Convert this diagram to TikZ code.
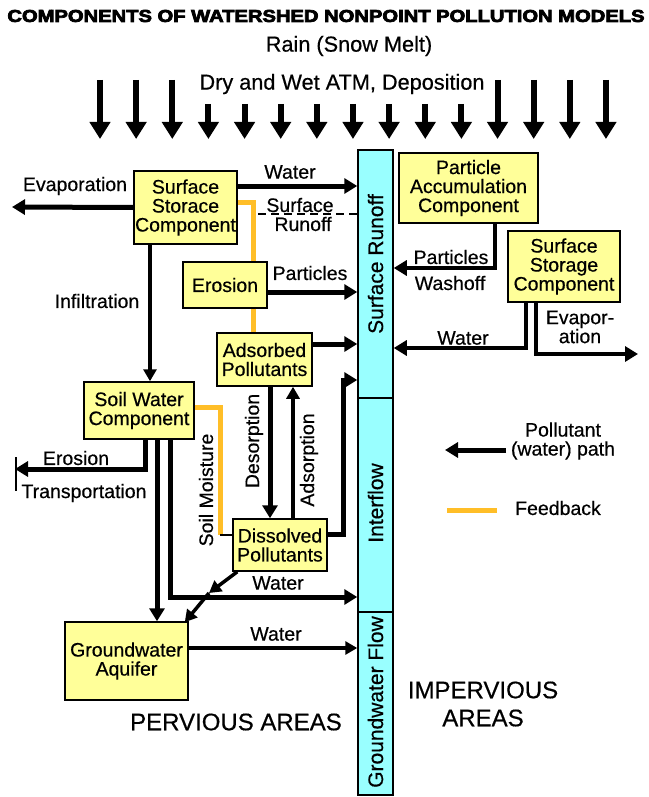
\documentclass[tikz,border=0pt]{standalone}
\usepackage{fontspec}
\setmainfont{Liberation Sans}[FakeBold=0.5]
\newfontfamily\titlefont[FakeBold=4]{Liberation Sans Bold}
\usepackage{graphicx}
\usetikzlibrary{arrows.meta}
\definecolor{boxyellow}{RGB}{255,255,153}
\definecolor{runcyan}{RGB}{153,255,255}
\definecolor{fborange}{RGB}{255,190,40}
\begin{document}
\begin{tikzpicture}[x=1pt,y=-1pt,
  comp/.style={draw=black,line width=1.5pt,fill=boxyellow,inner sep=0pt,align=center,font=\fontsize{19.5}{19}\selectfont},
  colbox/.style={draw=black,line width=1.5pt,fill=runcyan,inner sep=0pt,minimum width=35pt},
  lbl/.style={inner sep=0pt,font=\fontsize{19.5}{19}\selectfont,align=center},
  collbl/.style={inner sep=0pt,font=\fontsize{21}{21}\selectfont,rotate=90},
  toplbl/.style={inner sep=0pt,font=\fontsize{21.7}{22}\selectfont},
  big/.style={inner sep=0pt,font=\fontsize{24}{28}\selectfont,align=center},
  pflow/.style={line width=5pt,-{Triangle[length=13pt,width=15pt]}},
  pmid/.style={line width=3.5pt,-{Triangle[length=12pt,width=13pt]}},
  fb/.style={draw=fborange,line width=5pt},
  rain/.style={line width=6pt,-{Triangle[length=17pt,width=20pt]}}
]
\useasboundingbox (0,0) rectangle (648,797);
% titles
\node[inner sep=0pt] (title) at (326,16) {\resizebox{637pt}{12pt}{\titlefont COMPONENTS OF WATERSHED NONPOINT POLLUTION MODELS}};
\node[toplbl] (rainl) at (349,46) {Rain (Snow Melt)};
\node[toplbl] (dryl) at (342,84) {Dry and Wet ATM, Deposition};
% rain arrows
\foreach \i in {0,1,2,11,12,13,14}{\draw[rain] ({100+36.14*\i},80) -- ({100+36.14*\i},139);}
\foreach \i in {3,...,10}{\draw[rain] ({100+36.14*\i},104) -- ({100+36.14*\i},139);}
% column
\node[colbox,minimum height=248pt] (sr) at (375.5,274) {};
\node[colbox,minimum height=214pt] (inf) at (375.5,505) {};
\node[colbox,minimum height=183pt] (gwf) at (375.5,703.5) {};
\node[collbl] (srl) at (375.5,264) {Surface Runoff};
\node[collbl] (infl2) at (375.5,503) {Interflow};
\node[collbl] (gwfl) at (375.5,702) {Groundwater Flow};
% boxes
\node[comp,minimum width=103pt,minimum height=73pt] (ssc) at (185.5,207.5) {Surface\\Storace\\Component};
\node[comp,minimum width=84pt,minimum height=46pt] (ero) at (225,285) {Erosion};
\node[comp,minimum width=95pt,minimum height=53pt] (ads) at (264.5,359.5) {Adsorbed\\Pollutants};
\node[comp,minimum width=110pt,minimum height=57pt] (swc) at (139,410.5) {Soil Water\\Component};
\node[comp,minimum width=94pt,minimum height=52pt] (dis) at (280,545) {Dissolved\\Pollutants};
\node[comp,minimum width=123pt,minimum height=78pt] (gwa) at (126.5,661) {Groundwater\\Aquifer};
\node[comp,minimum width=139pt,minimum height=70pt] (pac) at (468.5,188) {Particle\\Accumulation\\Component};
\node[comp,minimum width=112pt,minimum height=71pt] (ssr) at (564,266.5) {Surface\\Storage\\Component};
% free ends
\coordinate (evapL) at (12,207);
\coordinate (dashS) at (258,214);
\coordinate (eroL) at (15,469);
\coordinate (jn) at (209,593);
\coordinate (evapR) at (638,354);
% left side connectors
\draw[pflow] (ssc.west) -- (evapL);
\draw[pflow] (ssc.east |- 0,186) -- (sr.west |- 0,186);
\draw[line width=1.3pt,dash pattern=on 8pt off 5pt] (dashS) -- (sr.west |- dashS);
\draw[fb] (ssc.east |- 0,202) -| (ero.north -| 253,0);
\draw[fb] (ero.south -| 253,0) -- (ads.north -| 253,0);
\draw[pflow] (ero.east |- 0,292) -- (sr.west |- 0,292);
\draw[pmid] (ssc.south -| 150,0) -- (swc.north -| 150,0);
\draw[pflow] (ads.east |- 0,344) -- (sr.west |- 0,344);
\draw[pflow] (ads.south -| 270,0) -- (dis.north -| 270,0);
\draw[pmid] (dis.north -| 293,0) -- (ads.south -| 293,0);
\draw[pflow] (dis.east |- 0,534) -| (343,380) -- (sr.west |- 0,380);
\draw[fb] (swc.east |- 0,407) -| (220,535);
\draw[line width=1.3pt] (220,535) -- (dis.west |- 0,535);
\draw[pflow] (swc.south -| 145,0) |- (eroL);
\draw[line width=1.3pt] (16,457) -- (16,491);
\draw[pflow] (swc.south -| 157,0) -- (gwa.north -| 157,0);
\draw[pflow] (swc.south -| 170,0) |- (inf.west |- 0,597);
\draw[pmid] ([xshift=5pt]dis.south west) -- (jn);
\draw[pmid] (jn) -- ([xshift=-4pt,yshift=-1pt]gwa.north east);
\draw[pmid] (gwa.east |- 0,648) -- (gwf.west |- 0,648);
% right side connectors
\draw[pflow,line width=4pt] (pac.south -| 495,0) |- (sr.east |- 0,268);
\draw[pflow,line width=4pt] (ssr.south -| 526,0) |- (sr.east |- 0,348);
\draw[pflow,line width=4pt] (ssr.south -| 536,0) |- (evapR);
% labels
\node[lbl] (evl) at (75,186) {Evaporation};
\node[lbl] (wl1) at (290,172) {Water};
\node[lbl] (srl1) at (300,205) {Surface};
\node[lbl] (srl2) at (303,224) {Runoff};
\node[lbl] (pl1) at (310,273) {Particles};
\node[lbl] (infl) at (97,301) {Infiltration};
\node[lbl,rotate=90] (desl) at (254,441) {Desorption};
\node[lbl,rotate=90] (adsl) at (309,460) {Adsorption};
\node[lbl,rotate=90] (sml) at (206,490) {Soil Moisture};
\node[lbl] (erl) at (76,458) {Erosion};
\node[lbl] (trl) at (84,493) {Transportation};
\node[lbl] (wl2) at (278,583) {Water};
\node[lbl] (wl3) at (276,634) {Water};
\node[lbl] (pl2) at (451,257) {Particles};
\node[lbl] (wol) at (450,283) {Washoff};
\node[lbl] (wl4) at (463,338) {Water};
\node[lbl] (evl2) at (580,327) {Evapor-\\ation};
\node[big] (perv) at (236,722) {PERVIOUS AREAS};
\node[big] (imperv) at (483,704) {IMPERVIOUS\\AREAS};
% legend
\coordinate (legA) at (506,450);
\coordinate (legB) at (445,450);
\draw[pflow] (legA) -- (legB);
\node[lbl] (legl1) at (563,441) {Pollutant\\(water) path};
\coordinate (legC) at (447,510);
\coordinate (legD) at (497,510);
\draw[fb] (legC) -- (legD);
\node[lbl] (legl2) at (558,508) {Feedback};
\end{tikzpicture}
\end{document}
